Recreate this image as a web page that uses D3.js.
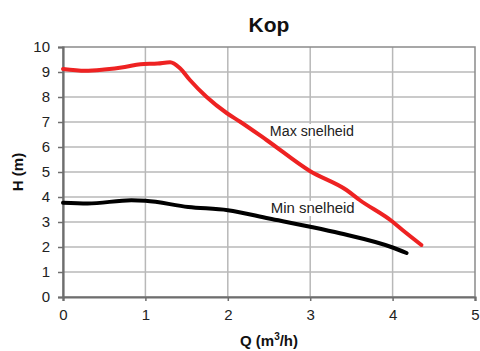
<!DOCTYPE html>
<html><head><meta charset="utf-8">
<script src="https://cdn.jsdelivr.net/npm/d3@7"></script>
<style>body{margin:0;background:#fff}svg{display:block}</style>
</head><body><svg id="c" width="480" height="351"></svg>
<script>
const maxQ = [0, 0.27, 0.5, 0.75, 0.94, 1.15, 1.3, 1.42, 1.54, 1.74, 1.99, 2.15, 2.47, 3.0, 3.44, 3.6, 4.0, 4.12, 4.35];
const maxH = [9.12, 9.05, 9.1, 9.2, 9.31, 9.34, 9.39, 9.15, 8.68, 8.01, 7.35, 7.01, 6.28, 5.03, 4.28, 3.88, 3.01, 2.68, 2.08];
const minQ = [0, 0.3, 0.83, 1.0, 1.52, 2.0, 2.5, 3.0, 3.36, 4.0, 4.17];
const minH = [3.77, 3.74, 3.87, 3.85, 3.6, 3.47, 3.14, 2.81, 2.55, 1.98, 1.76];
const xTicks = [0, 1, 2, 3, 4, 5];
const yTicks = [0,1,2,3,4,5,6,7,8,9,10];
const labels = [{t:"Max snelheid", q:3.02, h:6.44}, {t:"Min snelheid", q:3.03, h:3.36}];

const svg = d3.select("#c");
const x = d3.scaleLinear().domain([0,5]).range([63,475]);
const y = d3.scaleLinear().domain([0,10]).range([297,47]);
const font = "'Liberation Sans', Arial, sans-serif";

// grid
svg.append("g").selectAll("line").data(xTicks.slice(1,-1)).join("line")
  .attr("x1",d=>x(d)).attr("x2",d=>x(d)).attr("y1",y(0)).attr("y2",y(10))
  .attr("stroke","#b8b8b8").attr("stroke-width",1.5);
svg.append("g").selectAll("line").data(yTicks.slice(1,-1)).join("line")
  .attr("x1",x(0)).attr("x2",x(5)).attr("y1",d=>y(d)).attr("y2",d=>y(d))
  .attr("stroke","#b8b8b8").attr("stroke-width",1.5);
// frame
svg.append("rect").attr("x",x(0)).attr("y",y(10)).attr("width",x(5)-x(0)).attr("height",y(0)-y(10))
  .attr("fill","none").attr("stroke","#8a8a8a").attr("stroke-width",1.5);

// axes
const xa = svg.append("g").attr("transform",`translate(0,${y(0)})`)
  .call(d3.axisBottom(x).tickValues(xTicks).tickSize(4).tickPadding(8).tickFormat(d3.format("d")));
const ya = svg.append("g").attr("transform",`translate(${x(0)},0)`)
  .call(d3.axisLeft(y).tickValues(yTicks).tickSize(5).tickPadding(8).tickFormat(d3.format("d")));
[xa,ya].forEach(a=>{
  a.select(".domain").attr("stroke","#6e6e6e").attr("stroke-width",2.2);
  a.selectAll(".tick line").attr("stroke","#6e6e6e").attr("stroke-width",1.5);
  a.selectAll("text").attr("font-family",font).attr("font-size",15).attr("fill","#222");
});

const line = d3.line().x(d=>x(d[0])).y(d=>y(d[1])).curve(d3.curveMonotoneX);
svg.append("path").datum(minQ.map((q,i)=>[q,minH[i]])).attr("d",line)
  .attr("fill","none").attr("stroke","#000").attr("stroke-width",4).attr("stroke-linecap","round");
svg.append("path").datum(maxQ.map((q,i)=>[q,maxH[i]])).attr("d",line)
  .attr("fill","none").attr("stroke","#ee2222").attr("stroke-width",4).attr("stroke-linecap","round");

// labels with white background
labels.forEach(l=>{
  const g = svg.append("g");
  const t = g.append("text").attr("x",x(l.q)).attr("y",y(l.h)).attr("text-anchor","middle")
    .attr("font-family",font).attr("font-size",15.5)
    .attr("textLength",84).attr("lengthAdjust","spacingAndGlyphs")
    .attr("fill","#222").text(l.t);
  const b = t.node().getBBox();
  g.insert("rect","text").attr("x",b.x).attr("y",b.y+2).attr("width",b.width).attr("height",b.height-2).attr("fill","#fff");
});

svg.append("text").attr("x",269).attr("y",32).attr("text-anchor","middle")
  .attr("font-family",font).attr("font-weight","bold").attr("font-size",21).attr("fill","#111").text("Kop");
svg.append("text").attr("x",269).attr("y",346).attr("text-anchor","middle")
  .attr("font-family",font).attr("font-weight","bold").attr("font-size",15).attr("fill","#111")
  .html("Q (m<tspan dy='-6' font-size='10'>3</tspan><tspan dy='6'>/h)</tspan>");
svg.append("text").attr("transform","translate(23,172) rotate(-90)").attr("text-anchor","middle")
  .attr("font-family",font).attr("font-weight","bold").attr("font-size",15).attr("fill","#111").text("H (m)");
</script></body></html>
